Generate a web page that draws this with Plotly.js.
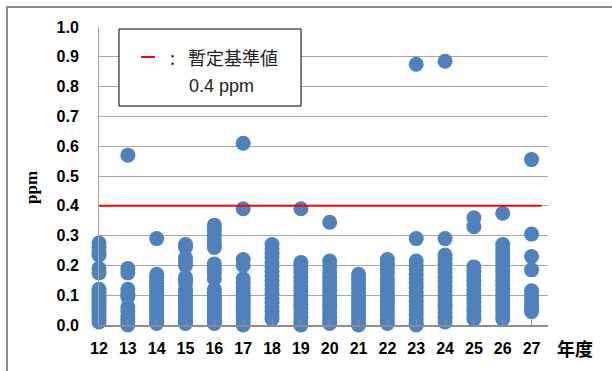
<!DOCTYPE html>
<html>
<head>
<meta charset="utf-8">
<script src="https://cdn.plot.ly/plotly-3.0.1.min.js"></script>
<style>
  html, body { margin: 0; padding: 0; background: #fff; overflow: hidden; }
  #wrap { position: relative; width: 612px; height: 371px; overflow: hidden; }
  #chart { position: absolute; left: 0; top: 0; width: 612px; height: 371px; }
  #frame { position: absolute; left: 6px; top: 6px; width: 700px; height: 500px;
           border: 2px solid #8c8c8c; pointer-events: none; }
</style>
</head>
<body>
<div id="wrap">
  <div id="chart"></div>
  <div id="frame"></div>
</div>
<script>
// Fiscal years (平成) on the x axis
const years = [12, 13, 14, 15, 16, 17, 18, 19, 20, 21, 22, 23, 24, 25, 26, 27];

const y12 = [0.275, 0.26, 0.245, 0.235, 0.19, 0.175, 0.12, 0.11, 0.10, 0.09, 0.08, 0.07, 0.06, 0.05, 0.04, 0.03, 0.02, 0.01];
const y13 = [0.57, 0.19, 0.175, 0.12, 0.105, 0.095, 0.06, 0.045, 0.03, 0.02, 0.01, 0.0];
const y14 = [0.29, 0.17, 0.16, 0.15, 0.14, 0.13, 0.12, 0.11, 0.10, 0.09, 0.08, 0.07, 0.06, 0.05, 0.04, 0.03, 0.02, 0.01, 0.005];
const y15 = [0.27, 0.26, 0.225, 0.21, 0.2, 0.16, 0.15, 0.14, 0.12, 0.11, 0.10, 0.09, 0.08, 0.07, 0.06, 0.05, 0.04, 0.03, 0.02, 0.01, 0.005];
const y16 = [0.335, 0.32, 0.30, 0.285, 0.27, 0.26, 0.205, 0.19, 0.175, 0.155, 0.12, 0.11, 0.10, 0.09, 0.08, 0.07, 0.06, 0.05, 0.04, 0.03, 0.02, 0.01, 0.005];
const y17 = [0.61, 0.39, 0.22, 0.20, 0.155, 0.14, 0.125, 0.11, 0.10, 0.09, 0.08, 0.07, 0.06, 0.05, 0.04, 0.03, 0.02, 0.01, 0.0];
const y18 = [0.27, 0.255, 0.24, 0.225, 0.21, 0.195, 0.18, 0.165, 0.15, 0.135, 0.12, 0.105, 0.09, 0.075, 0.06, 0.045, 0.03, 0.02];
const y19 = [0.39, 0.21, 0.20, 0.19, 0.175, 0.16, 0.145, 0.13, 0.115, 0.10, 0.085, 0.07, 0.055, 0.04, 0.025, 0.01, 0.0];
const y20 = [0.345, 0.215, 0.195, 0.175, 0.16, 0.145, 0.13, 0.115, 0.10, 0.085, 0.07, 0.055, 0.04, 0.025, 0.01, 0.005];
const y21 = [0.17, 0.155, 0.14, 0.125, 0.11, 0.095, 0.08, 0.065, 0.05, 0.035, 0.02, 0.005, 0.0];
const y22 = [0.22, 0.205, 0.19, 0.175, 0.155, 0.14, 0.125, 0.11, 0.095, 0.08, 0.065, 0.05, 0.035, 0.02, 0.005];
const y23 = [0.875, 0.29, 0.215, 0.20, 0.185, 0.17, 0.155, 0.14, 0.125, 0.11, 0.095, 0.08, 0.065, 0.05, 0.035, 0.02, 0.005, 0.0];
const y24 = [0.885, 0.29, 0.235, 0.22, 0.205, 0.19, 0.175, 0.16, 0.145, 0.13, 0.115, 0.10, 0.085, 0.07, 0.055, 0.04, 0.025, 0.01];
const y25 = [0.36, 0.33, 0.195, 0.18, 0.165, 0.15, 0.135, 0.12, 0.105, 0.09, 0.075, 0.06, 0.045, 0.03, 0.02];
const y26 = [0.375, 0.27, 0.255, 0.24, 0.225, 0.21, 0.195, 0.18, 0.165, 0.15, 0.135, 0.12, 0.105, 0.09, 0.075, 0.06, 0.045, 0.03, 0.02];
const y27 = [0.555, 0.305, 0.23, 0.185, 0.115, 0.10, 0.085, 0.07, 0.055, 0.045];

const seriesByYear = [y12, y13, y14, y15, y16, y17, y18, y19, y20, y21, y22, y23, y24, y25, y26, y27];
const tickLabels = ["12", "13", "14", "15", "16", "17", "18", "19", "20", "21", "22", "23", "24", "25", "26", "27"];
const yTickVals = [0, 0.1, 0.2, 0.3, 0.4, 0.5, 0.6, 0.7, 0.8, 0.9, 1.0];

// Provisional standard
const limitValue = 0.4;
const limitLabel = "暫定基準値";
const limitText = "0.4 ppm";

const xs = [], ys = [];
seriesByYear.forEach((vals, i) => {
  vals.forEach(v => { xs.push(years[i]); ys.push(v); });
});

const xMin = 12, xMax = 27.57;

const dots = {
  type: 'scatter', mode: 'markers',
  x: xs, y: ys,
  cliponaxis: false,
  marker: { color: '#4F81BD', size: 15, line: { width: 0 } },
  hoverinfo: 'x+y', showlegend: false
};
const limitLine = {
  type: 'scatter', mode: 'lines',
  x: [xMin, 27.35], y: [limitValue, limitValue],
  line: { color: '#FF0000', width: 2 },
  hoverinfo: 'skip', showlegend: false
};

// pixel helpers for paper coords of plot area (l=99, r=548, t=27, b=325)
const L = 99, R = 548, T = 27, B = 325;
const px = x => (x - L) / (R - L);
const py = y => (B - y) / (B - T);

const jpFont = '"Noto Sans CJK JP", "Noto Sans", sans-serif';

const layout = {
  width: 612, height: 371,
  margin: { l: L, r: 612 - R, t: T, b: 371 - B, pad: 0 },
  paper_bgcolor: 'rgba(0,0,0,0)', plot_bgcolor: '#ffffff',
  showlegend: false,
  xaxis: {
    range: [xMin, xMax],
    tickmode: 'array', tickvals: years, ticktext: tickLabels,
    showgrid: false, zeroline: false,
    showline: true, linecolor: '#8c8c8c', linewidth: 1.5,
    ticks: 'inside', ticklen: 6, tickcolor: '#8c8c8c', tickwidth: 1,
    ticklabelstandoff: 8,
    tickfont: { family: '"Liberation Sans", Arial, sans-serif', size: 16, color: '#000', weight: 'bold' }
  },
  yaxis: {
    range: [0, 1],
    tickmode: 'array', tickvals: yTickVals,
    tickformat: '.1f',
    showgrid: true, gridcolor: '#a6a6a6', gridwidth: 1,
    zeroline: false,
    showline: true, linecolor: '#a6a6a6', linewidth: 1,
    ticks: '',
    ticklabelstandoff: 16,
    tickfont: { family: '"Liberation Sans", Arial, sans-serif', size: 16, color: '#000', weight: 'bold' }
  },
  shapes: [
    { type: 'rect', xref: 'paper', yref: 'paper',
      x0: px(119), x1: px(301), y0: py(106), y1: py(29),
      fillcolor: '#ffffff', line: { color: '#000', width: 1 }, layer: 'above' },
    { type: 'line', xref: 'paper', yref: 'paper',
      x0: px(141), x1: px(155), y0: py(57), y1: py(57),
      line: { color: '#FF0000', width: 2 }, layer: 'above' }
  ],
  annotations: [
    { xref: 'paper', yref: 'paper', x: px(172), y: py(57), text: ':', showarrow: false,
      xanchor: 'center', yanchor: 'middle', font: { family: jpFont, size: 18, color: '#222' } },
    { xref: 'paper', yref: 'paper', x: px(186), y: py(57), text: limitLabel, showarrow: false,
      xanchor: 'left', yanchor: 'middle', font: { family: jpFont, size: 18, color: '#222' } },
    { xref: 'paper', yref: 'paper', x: px(187), y: py(86), text: limitText, showarrow: false,
      xanchor: 'left', yanchor: 'middle', font: { family: '"Liberation Sans", Arial, sans-serif', size: 18, color: '#222' } },
    { xref: 'paper', yref: 'paper', x: px(32), y: py(188), text: 'ppm', showarrow: false,
      textangle: -90, xanchor: 'center', yanchor: 'middle',
      font: { family: '"Liberation Serif", "Times New Roman", serif', size: 17, color: '#000', weight: 'bold' } },
    { xref: 'paper', yref: 'paper', x: px(575), y: py(348), text: '年度', showarrow: false,
      xanchor: 'center', yanchor: 'middle',
      font: { family: jpFont, size: 18, color: '#000', weight: 'bold' } }
  ]
};

Plotly.newPlot('chart', [dots, limitLine], layout, { staticPlot: true, displayModeBar: false });
</script>
</body>
</html>
